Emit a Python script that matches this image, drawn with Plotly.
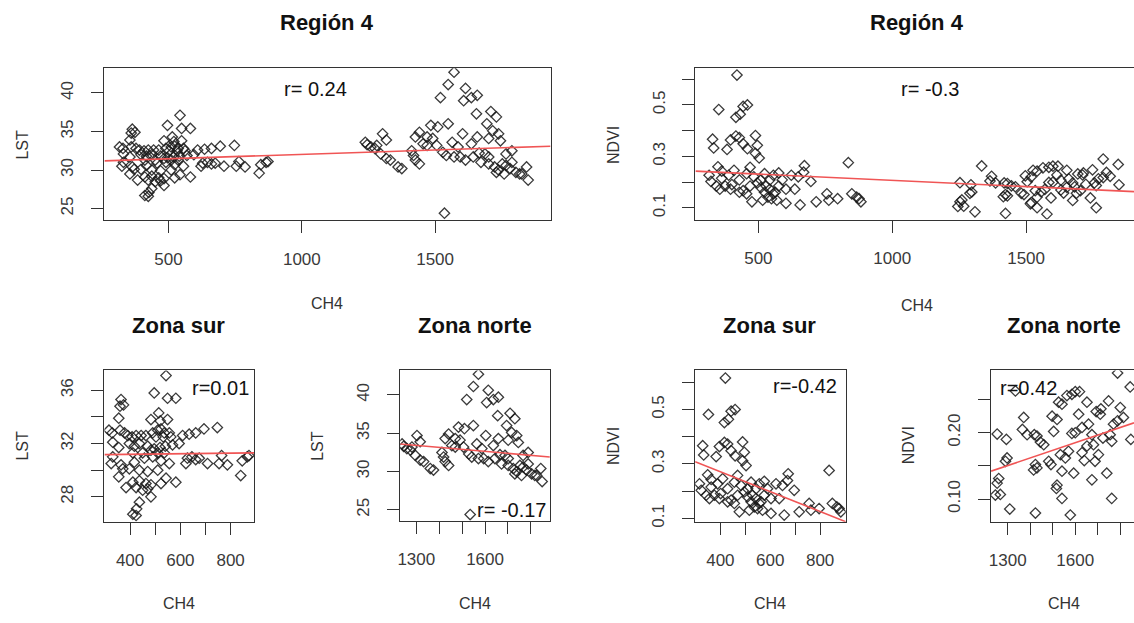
import numpy as np
import plotly.graph_objects as go

W, H = 1134, 623

# --- data ------------------------------------------------------------------
ch4_sur_lst = [543, 496, 549, 582, 364, 374, 360, 355, 514, 483, 520, 549, 316, 329, 360, 378,
               391, 408, 424, 444, 463, 490, 510, 523, 536, 556, 503, 532, 562, 609, 635, 661,
               694, 747, 331, 355, 397, 417, 437, 470, 496, 519, 540, 569, 595, 411, 450, 483,
               510, 536, 331, 325, 364, 417, 457, 490, 523, 556, 628, 646, 661, 708, 754, 787,
               764, 846, 866, 873, 840, 355, 397, 437, 470, 510, 543, 582, 411, 437, 463, 483,
               523, 450, 470, 483, 437, 426, 411, 424, 384, 371, 424, 622, 675]
lst_sur = [37.1, 35.8, 35.4, 35.4, 35.3, 34.9, 34.8, 33.9, 34.3, 33.8, 33.7, 33.8, 33.0, 32.8, 33.0, 32.8,
           32.6, 32.5, 32.6, 32.6, 32.6, 32.8, 33.0, 33.1, 32.8, 32.8, 32.5, 32.5, 32.5, 32.6, 32.7, 32.8,
           33.1, 33.2, 32.1, 31.7, 32.0, 31.8, 32.0, 31.8, 31.6, 31.7, 31.8, 31.9, 32.0, 31.3, 31.3, 31.5,
           31.3, 31.3, 31.0, 30.5, 30.4, 30.6, 30.9, 31.0, 30.7, 30.5, 30.9, 31.0, 30.8, 30.5, 30.5, 30.4,
           31.1, 30.7, 31.0, 31.1, 29.6, 29.5, 30.1, 30.0, 29.9, 30.0, 29.4, 29.1, 29.1, 29.2, 29.0, 28.9,
           29.0, 28.5, 28.6, 28.0, 27.6, 27.1, 26.7, 26.6, 28.7, 30.1, 28.7, 30.5, 30.9]

ch4_norte_lst = [1571, 1549, 1520, 1614, 1636, 1607, 1658, 1655, 1549, 1709, 1730, 1694, 1716, 1738,
                 1745, 1484, 1510, 1441, 1426, 1470, 1491, 1303, 1317, 1245, 1259, 1274, 1296, 1317,
                 1332, 1361, 1375, 1412, 1419, 1426, 1441, 1506, 1529, 1542, 1564, 1586, 1594, 1614,
                 1636, 1643, 1665, 1687, 1701, 1672, 1701, 1723, 1738, 1752, 1759, 1730, 1781, 1803,
                 1817, 1843, 1849, 1788, 1766, 1470, 1571, 1535, 1788, 1825, 1658, 1603, 1701, 1766,
                 1455, 1238, 1281]
lst_norte = [42.7, 41.1, 39.4, 40.6, 39.4, 39.0, 39.7, 37.3, 36.0, 37.6, 36.9, 36.0, 35.1, 34.7,
             33.8, 35.8, 35.6, 34.9, 34.3, 34.3, 34.1, 34.7, 33.9, 33.3, 33.0, 32.8, 32.1, 31.5,
             31.3, 30.4, 30.2, 32.5, 31.9, 31.3, 30.8, 33.2, 32.3, 31.9, 33.6, 33.0, 31.7, 31.3,
             33.4, 31.7, 32.2, 32.1, 31.7, 31.0, 30.8, 30.4, 30.0, 30.8, 29.5, 29.7, 30.2, 29.7,
             29.5, 30.4, 28.7, 31.0, 32.1, 33.2, 31.7, 24.4, 32.5, 29.5, 34.3, 34.7, 34.1, 30.6,
             33.4, 33.6, 33.2]

ch4_sur_ndvi = [420, 352, 416, 432, 443, 459, 329, 333, 383, 396, 416, 429, 443, 459, 489, 496,
                489, 503, 349, 316, 363, 343, 356, 376, 389, 409, 429, 443, 456, 469, 483, 496,
                509, 523, 536, 549, 563, 576, 543, 556, 576, 523, 509, 529, 543, 556, 569, 589,
                603, 623, 649, 636, 669, 672, 696, 603, 656, 716, 763, 756, 796, 836, 849, 876,
                883, 867, 456, 429, 396, 476, 516, 469, 401, 363, 323]
ndvi_sur = [0.616, 0.482, 0.452, 0.464, 0.494, 0.500, 0.367, 0.333, 0.327, 0.364, 0.379, 0.373,
            0.349, 0.330, 0.381, 0.343, 0.312, 0.294, 0.260, 0.227, 0.215, 0.185, 0.173, 0.185,
            0.227, 0.246, 0.209, 0.167, 0.233, 0.258, 0.221, 0.197, 0.179, 0.161, 0.142, 0.136,
            0.161, 0.185, 0.209, 0.227, 0.236, 0.233, 0.209, 0.185, 0.173, 0.155, 0.130, 0.209,
            0.173, 0.227, 0.221, 0.173, 0.239, 0.264, 0.203, 0.118, 0.112, 0.124, 0.130, 0.155,
            0.136, 0.276, 0.155, 0.136, 0.124, 0.142, 0.155, 0.161, 0.173, 0.124, 0.130, 0.185,
            0.191, 0.243, 0.203]

ch4_norte_ndvi = [1788, 1334, 1371, 1365, 1253, 1294, 1297, 1290, 1260, 1253, 1245, 1267, 1309,
                  1423, 1418, 1430, 1445, 1460, 1423, 1415, 1430, 1482, 1492, 1504, 1497, 1519,
                  1526, 1541, 1563, 1585, 1600, 1619, 1615, 1585, 1570, 1534, 1541, 1519, 1516,
                  1541, 1578, 1593, 1630, 1640, 1652, 1659, 1674, 1681, 1688, 1703, 1711, 1714,
                  1723, 1748, 1755, 1762, 1770, 1788, 1800, 1814, 1844, 1847, 1674, 1740, 1762,
                  1630, 1600, 1556, 1693, 1386, 1652]
ndvi_norte = [0.290, 0.263, 0.223, 0.205, 0.198, 0.190, 0.162, 0.157, 0.131, 0.124, 0.106, 0.107,
              0.085, 0.079, 0.197, 0.195, 0.186, 0.182, 0.152, 0.144, 0.147, 0.157, 0.152, 0.202,
              0.225, 0.220, 0.246, 0.243, 0.256, 0.258, 0.262, 0.262, 0.228, 0.199, 0.172, 0.167,
              0.142, 0.121, 0.116, 0.101, 0.076, 0.139, 0.170, 0.158, 0.180, 0.213, 0.197, 0.182,
              0.157, 0.167, 0.228, 0.236, 0.192, 0.248, 0.197, 0.187, 0.213, 0.218, 0.238, 0.223,
              0.269, 0.190, 0.129, 0.139, 0.101, 0.208, 0.200, 0.162, 0.232, 0.197, 0.246]

# regression lines (intercept, slope) and r labels
fit_lst_all = (30.9, 0.001135)
fit_ndvi_all = (0.2559, -4.86e-5)
fit_lst_sur = (31.10, 0.00022)
fit_lst_norte = (36.8, -0.0026)
fit_ndvi_sur = (0.418, -3.66e-4)
fit_ndvi_norte = (0.0013, 1.148e-4)
r_labels = ["r= 0.24", "r= -0.3", "r=0.01", "r= -0.17", "r=-0.42", "r=0.42"]

# --- helpers -----------------------------------------------------------------
FONT = "Liberation Sans, Arial, sans-serif"
AX = "#333333"


def px(x):
    return x / W


def py(y):
    return 1 - y / H


def ticks(vals, shown):
    return dict(tickvals=vals, ticktext=[str(v) if v in shown else "" for v in vals])


panels = [
    # (x data, y data, fit, x domain px, y domain px, x range, y range, x ticks, y ticks, right edge drawn)
    (ch4_sur_lst + ch4_norte_lst, lst_sur + lst_norte, fit_lst_all, (101.7, 549), (69, 222.3),
     [259.5, 1933], [23.5, 43.2], ticks([500, 1000, 1500], [500, 1000, 1500]),
     ticks([25, 30, 35, 40], [25, 30, 35, 40]), True),
    (ch4_sur_ndvi + ch4_norte_ndvi, ndvi_sur + ndvi_norte, fit_ndvi_all, (694.3, 1134), (69, 221.7),
     [265, 1903], [0.055, 0.642], ticks([500, 1000, 1500], [500, 1000, 1500]),
     ticks([0.1, 0.2, 0.3, 0.4, 0.5, 0.6], [0.1, 0.3, 0.5]), False),
    (ch4_sur_lst, lst_sur, fit_lst_sur, (101.7, 251.7), (374, 526.7),
     [298, 893], [26.14, 37.49], ticks([400, 500, 600, 700, 800], [400, 600, 800]),
     ticks([28, 30, 32, 34, 36], [28, 32, 36]), True),
    (ch4_norte_lst, lst_norte, fit_lst_norte, (398.3, 548.3), (374, 525.7),
     [1230, 1882.6], [23.6, 43.2], ticks([1300, 1400, 1500, 1600, 1700, 1800], [1300, 1600]),
     ticks([25, 30, 35, 40], [25, 30, 35, 40]), True),
    (ch4_sur_ndvi, ndvi_sur, fit_ndvi_sur, (694, 845), (374, 526.7),
     [298.8, 902.8], [0.088, 0.644], ticks([400, 500, 600, 700, 800], [400, 600, 800]),
     ticks([0.1, 0.2, 0.3, 0.4, 0.5, 0.6], [0.1, 0.3, 0.5]), True),
    (ch4_norte_ndvi, ndvi_norte, fit_ndvi_norte, (990.7, 1134), (374, 526.7),
     [1226, 1861], [0.066, 0.294], ticks([1300, 1400, 1500, 1600, 1700, 1800], [1300, 1600]),
     dict(tickvals=[0.10, 0.15, 0.20, 0.25], ticktext=["0.10", "", "0.20", ""]), False),
]

fig = go.Figure()
layout = dict(width=W, height=H, margin=dict(l=0, r=0, t=0, b=0), showlegend=False,
              paper_bgcolor="white", plot_bgcolor="white", font=dict(family=FONT, color=AX))

for i, (xs, ys, fit, xd, yd, xr, yr, xt, yt, closed) in enumerate(panels, start=1):
    sfx = "" if i == 1 else str(i)
    fig.add_trace(go.Scatter(
        x=xs, y=ys, mode="markers", xaxis="x" + sfx, yaxis="y" + sfx, hoverinfo="skip",
        marker=dict(symbol="diamond-open", size=8, color="rgba(25,25,25,0.85)", line=dict(width=1.3)),
    ))
    lx = np.array(xr)
    fig.add_trace(go.Scatter(
        x=lx, y=fit[0] + fit[1] * lx, mode="lines", xaxis="x" + sfx, yaxis="y" + sfx,
        hoverinfo="skip", line=dict(color="rgb(240,85,85)", width=1.6),
    ))
    layout["xaxis" + sfx] = dict(
        domain=[px(xd[0]), px(xd[1])], range=xr, anchor="y" + sfx, showgrid=False, zeroline=False,
        showline=True, mirror=True, linecolor=AX, linewidth=1.3, ticks="outside", ticklen=12,
        tickcolor=AX, tickwidth=1.3, tickfont=dict(size=17, color="#3a3a3a"),
        ticklabelstandoff=11, **xt)
    layout["yaxis" + sfx] = dict(
        domain=[py(yd[1]), py(yd[0])], range=yr, anchor="x" + sfx, showgrid=False, zeroline=False,
        showline=True, mirror=closed, linecolor=AX, linewidth=1.3, ticks="outside", ticklen=12,
        tickcolor=AX, tickwidth=1.3, tickangle=-90, tickfont=dict(size=17, color="#3a3a3a"),
        ticklabelstandoff=11, **yt)

fig.update_layout(**layout)


def note(txt, x, y, size, color, angle=0):
    fig.add_annotation(text=txt, x=px(x), y=py(y), xref="paper", yref="paper", xanchor="center",
                       yanchor="middle", textangle=angle, showarrow=False,
                       font=dict(size=size, color=color))


# titles, axis titles and r labels
titles = [("Región 4", 325, 23), ("Región 4", 916, 23), ("Zona sur", 176, 329),
          ("Zona norte", 473, 329), ("Zona sur", 769, 329), ("Zona norte", 1064, 329)]
for txt, x, y in titles:
    note("<b>%s</b>" % txt, x, y, 22, "#111111")

xlabels = [(325, 306), (916, 308), (176, 609), (473, 609), (769, 609), (1064, 609)]
for x, y in xlabels:
    note("CH4", x, y, 16, AX)

ylabels = [("LST", 20, 146), ("NDVI", 612, 146), ("LST", 20, 450), ("LST", 316, 450),
           ("NDVI", 612, 450), ("NDVI", 908, 450)]
for txt, x, y in ylabels:
    note(txt, x, y, 16, AX, angle=-90)

rpos = [(313, 90), (929, 90), (218, 392), (510, 515), (804, 390), (1028, 392)]
for txt, (x, y) in zip(r_labels, rpos):
    note(txt, x, y, 20, "#111111")

fig.write_html("out.html", config=dict(displayModeBar=False),
               post_script="document.body.style.margin='0';")
